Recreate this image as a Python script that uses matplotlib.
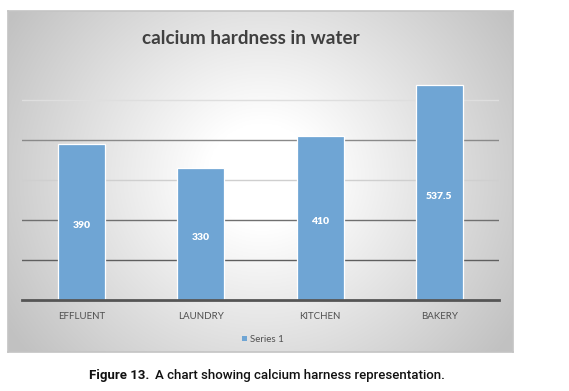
import numpy as np
import matplotlib
matplotlib.use("Agg")
import matplotlib.pyplot as plt
from matplotlib.patches import Rectangle

categories = ["EFFLUENT", "LAUNDRY", "KITCHEN", "BAKERY"]
values = [390, 330, 410, 537.5]
value_labels = ["390", "330", "410", "537.5"]
grid_values = [100, 200, 300, 400, 500]
grid_colors = ["#5f5f5f", "#707070", "#cfcfcf", "#8a8a8a", "#dedede"]
series_name = "Series 1"
title = "calcium hardness in water"
caption_head = "Figure 13."
caption_body = "A chart showing calcium harness representation."

W, H = 569, 391
fig = plt.figure(figsize=(W / 100, H / 100), dpi=100)
fig.patch.set_facecolor("white")

def fx(px):
    return px / W

def fy(py):
    return 1 - py / H

# background box with radial gradient
bx0, bx1, by0, by1 = 8, 513, 11, 352
bg = fig.add_axes([fx(bx0), fy(by1), fx(bx1 - bx0), (by1 - by0) / H])
nx, ny = 400, 300
xs = np.linspace(bx0, bx1, nx)
ys = np.linspace(by0, by1, ny)
X, Y = np.meshgrid(xs, ys)
cx, cy = 262, 175
r = np.sqrt(((X - cx) / 1.0) ** 2 + ((Y - cy) / 0.95) ** 2)
t = np.clip((r - 55) / 245, 0, 1)
v = 1.0 - t ** 1.0 * (1.0 - 0.76)
img = np.dstack([v, v, v])
bg.imshow(img, extent=[0, 1, 0, 1], aspect="auto", origin="upper", interpolation="bilinear")
bg.set_xlim(0, 1)
bg.set_ylim(0, 1)
for s in bg.spines.values():
    s.set_color("#c4c4c4")
    s.set_linewidth(1.2)
bg.set_xticks([])
bg.set_yticks([])

# plot axes
px0, px1 = 22, 499
py_base, py_top = 300, 76
ymax = 560
ax = fig.add_axes([fx(px0), fy(py_base), fx(px1 - px0), (py_base - py_top) / H])
ax.patch.set_alpha(0)
ax.set_xlim(-0.5, 3.5)
ax.set_ylim(0, ymax)
for s in ax.spines.values():
    s.set_visible(False)
ax.set_xticks([])
ax.set_yticks([])

for gv, gc in zip(grid_values, grid_colors):
    ax.axhline(gv, color=gc, linewidth=1.0, zorder=1)
ax.axhline(0, color="#555555", linewidth=2.0, zorder=3, clip_on=False)

x = np.arange(len(categories))
bars = ax.bar(x, values, width=0.395, color="#6fa5d4", edgecolor="white",
              linewidth=0.9, zorder=2)

for xi, val, lab in zip(x, values, value_labels):
    ax.text(xi, val / 2 - 9, lab, ha="center", va="center", color="white",
            fontsize=7.5, fontweight="heavy", family=["Lato", "DejaVu Sans"], zorder=4)

for xi, cat in zip(x, categories):
    ax.text(xi, -16.5 * ymax / (py_base - py_top), cat, ha="center", va="center",
            color="#505050", fontsize=7, family=["Lato", "DejaVu Sans"], clip_on=False)

# title
fig.text(fx(251), fy(39), title, ha="center", va="center", fontsize=13.6,
         fontweight="bold", color="#404040", family=["Lato", "DejaVu Sans"])

# legend
fig.patches.append(Rectangle((fx(242), fy(341)), fx(5), 5 / H, transform=fig.transFigure,
                             facecolor="#6fa5d4", edgecolor="none"))
fig.text(fx(250), fy(339), series_name, ha="left", va="center", fontsize=7,
         color="#505050", family=["Lato", "DejaVu Sans"])

# caption
cap_font = ["Roboto", "DejaVu Sans"]
t1 = fig.text(fx(89), fy(375), caption_head, ha="left", va="center", fontsize=9.5,
              fontweight="bold", color="#111111", family=cap_font)
fig.canvas.draw()
bb = t1.get_window_extent()
x2 = bb.x1 / W + fx(6)
fig.text(x2, fy(375), caption_body, ha="left", va="center", fontsize=9.5,
         fontweight="medium", color="#111111", family=cap_font)

fig.savefig("out.png", dpi=100)
